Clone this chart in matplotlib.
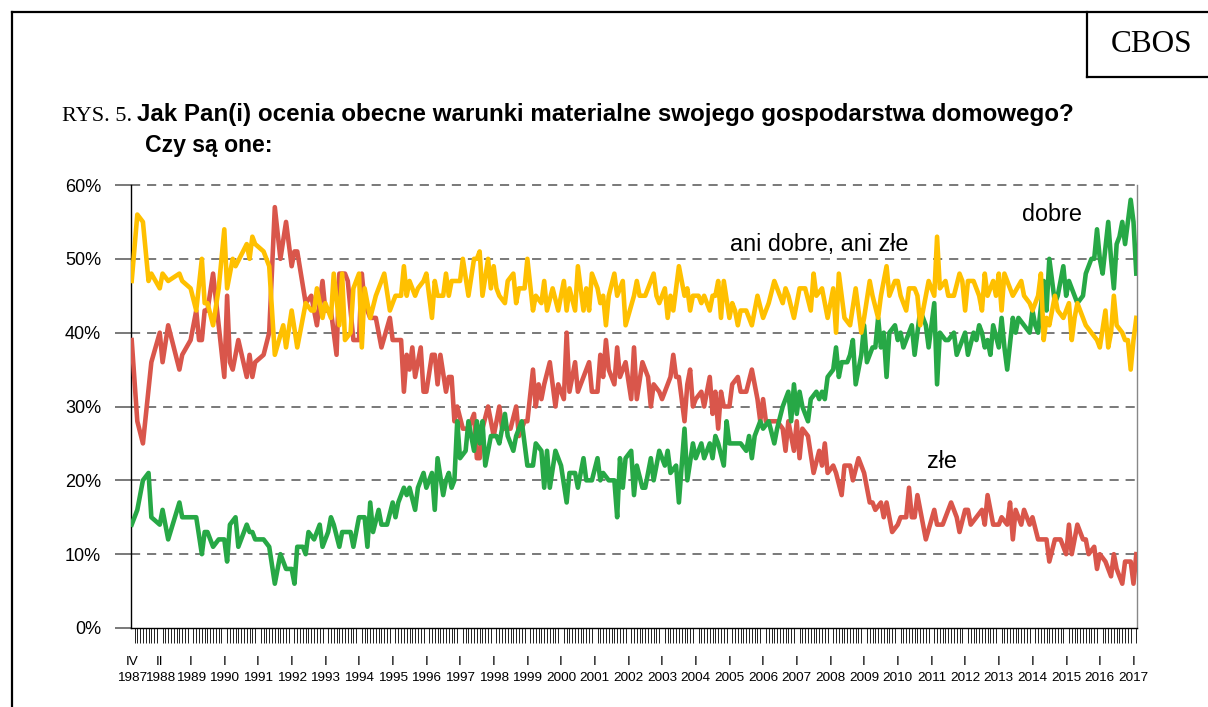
import matplotlib
matplotlib.use('Agg')
import matplotlib.pyplot as plt
from matplotlib.lines import Line2D
import numpy as np

plt.rcParams['font.family'] = ['Liberation Sans', 'DejaVu Sans']

W, H = 1208, 707

# months counted from IV 1987 (= 0)
dobre_m = [0,2,4,6,7,10,11,13,17,18,23,25,26,27,29,31,33,34,35,37,38,41,42,43,44,47,49,51,53,55,57,58,59,61,62,63,65,67,68,70,71,72,74,75,78,79,81,83,84,85,86,88,89,91,93,94,95,97,98,99,101,102,104,105,107,108,109,111,112,113,114,115,116,117,119,120,122,123,124,125,126,128,130,131,133,134,136,137,139,141,143,144,146,147,148,149,151,153,155,156,158,159,161,162,164,166,167,168,170,172,173,174,175,176,178,179,180,182,183,185,186,188,190,191,192,194,195,197,198,200,201,203,204,206,207,208,209,211,212,213,216,217,219,220,221,222,224,225,227,229,230,232,234,235,236,237,238,239,241,242,244,245,246,247,248,250,251,252,253,255,256,257,258,260,261,262,264,265,266,267,268,269,270,272,273,274,275,276,278,279,281,283,284,285,286,287,288,290,291,293,294,296,297,298,300,301,302,303,304,305,306,307,309,310,311,312,314,315,316,318,320,321,322,323,325,326,327,329,330,332,333,334,336,337,339,340,342,343,344,345,346,348,349,350,351,352,353,354,356,357,358]
dobre = [14,16,20,21,15,14,16,12,17,15,15,10,13,13,11,12,12,9,14,15,11,14,13,13,12,12,11,6,10,8,8,6,11,11,10,13,12,14,11,13,15,14,11,13,13,11,15,15,11,17,13,16,14,14,17,15,17,19,18,19,16,19,21,19,21,16,23,18,20,21,19,20,28,23,24,28,24,28,25,28,22,26,26,25,29,26,24,26,28,22,22,25,24,19,24,19,24,22,17,21,21,19,23,20,20,23,20,21,20,20,15,23,19,23,24,18,22,19,19,23,20,24,22,24,21,22,17,27,20,25,23,25,23,25,23,26,25,22,28,25,25,25,24,26,23,26,28,27,28,25,27,30,32,28,33,29,32,30,28,31,32,31,32,31,34,35,38,34,36,36,37,39,33,37,41,36,38,38,42,38,40,34,40,41,39,40,38,39,41,37,43,41,38,41,44,33,40,39,39,40,37,39,40,37,40,39,41,40,38,39,37,41,38,42,38,35,42,40,42,41,40,43,41,40,47,43,50,44,45,49,45,47,45,44,45,48,50,50,54,50,48,55,50,46,52,53,55,52,58,55,48]

ani_m = [0,2,4,6,7,10,11,13,17,18,21,23,25,26,27,29,31,33,34,36,37,41,42,43,44,47,49,51,54,55,57,59,61,62,64,65,66,68,69,71,72,74,75,76,78,79,81,82,83,85,87,90,92,94,96,97,98,99,101,102,104,105,107,108,109,111,112,113,114,117,118,120,122,123,124,125,127,128,129,130,131,133,134,136,137,138,140,141,143,144,146,147,148,150,152,154,155,156,158,159,161,162,163,164,166,167,168,169,170,172,173,175,176,179,180,181,183,184,186,187,188,190,191,192,193,195,197,198,199,200,202,203,204,206,207,208,209,210,211,213,214,215,216,217,219,221,223,225,226,227,229,231,232,233,234,236,237,238,240,242,243,244,246,248,250,251,252,254,256,258,259,260,261,263,264,266,267,268,269,270,272,273,274,276,277,279,280,281,283,284,286,287,288,290,291,293,295,296,297,298,300,302,303,304,305,307,308,309,310,311,313,314,317,318,320,321,323,324,325,326,327,329,330,332,334,335,336,337,338,339,340,342,344,345,347,348,349,350,351,353,354,355,356,357,358]
ani = [47,56,55,47,48,46,48,47,48,47,46,43,50,44,44,41,46,54,46,50,49,52,50,53,52,51,49,37,41,38,43,38,42,44,43,43,46,42,44,42,48,41,48,39,40,46,48,38,46,42,45,48,43,45,45,49,45,47,45,46,47,48,42,47,45,45,48,45,47,47,50,45,50,50,51,45,50,46,49,46,45,44,47,48,44,46,46,50,43,45,44,47,43,46,43,47,43,46,43,49,43,46,43,48,46,44,45,41,45,48,45,47,41,45,47,45,45,46,48,45,44,46,42,45,43,49,45,46,43,45,45,44,45,43,45,45,47,42,47,42,44,43,41,43,43,41,45,42,43,44,47,45,44,46,45,42,44,46,46,43,48,45,46,42,46,40,48,42,41,46,43,40,42,47,45,42,45,47,49,45,47,47,45,43,46,46,45,41,45,47,45,53,46,47,45,45,48,47,43,47,47,45,43,48,45,47,45,48,43,48,46,45,47,45,44,43,45,48,39,42,41,45,43,42,44,39,42,44,43,42,41,40,39,38,43,38,40,45,41,40,39,39,35,39,42]

zle_m = [0,2,4,7,10,11,13,17,18,21,23,24,25,26,27,29,33,34,35,36,38,41,42,43,44,47,49,51,53,55,57,58,59,62,64,66,68,69,71,73,74,76,77,79,81,82,83,85,87,89,92,93,96,97,98,99,100,101,103,104,105,107,108,109,110,112,113,114,115,116,118,120,122,123,124,125,127,129,131,132,135,137,138,140,141,143,144,145,146,147,149,151,152,154,155,156,158,159,161,163,164,166,167,168,169,170,172,173,174,176,178,179,180,182,184,185,186,188,189,191,192,193,194,195,197,198,199,200,201,203,204,206,207,208,209,210,211,213,214,216,217,219,221,223,224,225,226,230,232,233,234,236,237,238,239,241,243,245,246,247,248,250,251,253,254,256,257,259,261,263,264,265,267,268,269,271,273,274,276,277,278,279,280,282,283,286,287,289,290,292,294,295,297,298,299,301,303,304,305,307,309,310,312,313,314,315,317,318,320,321,323,325,326,327,329,331,332,333,334,335,337,339,340,341,343,344,345,347,349,350,351,353,354,356,357,358]
zle = [39,28,25,36,40,36,41,35,37,39,43,39,39,43,43,48,34,45,36,35,39,34,37,34,36,37,40,57,50,55,49,51,51,44,45,41,47,43,43,37,48,48,47,39,39,48,44,42,42,38,42,39,39,32,37,35,38,34,38,32,32,37,37,33,37,32,34,34,28,30,27,27,29,23,23,27,30,26,30,27,27,30,26,28,28,35,30,33,31,33,36,30,33,31,40,32,36,32,34,36,32,32,37,34,39,35,33,38,34,36,31,38,31,36,34,30,33,32,31,33,34,37,34,34,28,33,35,30,31,32,30,34,29,32,27,32,30,30,33,34,32,32,35,31,28,31,28,28,27,24,28,24,28,23,27,26,21,24,22,25,21,22,21,18,22,22,20,23,21,17,17,16,17,15,17,13,14,15,15,19,15,15,18,14,12,16,14,14,15,17,15,13,16,16,14,15,16,14,18,14,14,15,14,17,12,16,14,16,14,15,12,12,12,9,12,12,11,10,14,10,14,12,12,10,11,8,10,9,7,10,8,6,9,9,6,10]

label_months = [0, 10, 21, 33, 45, 57, 69, 81, 93, 105, 117, 129, 141, 153, 165, 177, 189, 201, 213, 225, 237, 249, 261, 273, 285, 297, 309, 321, 333, 345, 357]
label_roman = ['IV', 'II'] + ['I'] * 29
label_years = [1987, 1988, 1989, 1990, 1991, 1992, 1993, 1994, 1995, 1996, 1997, 1998, 1999, 2000, 2001, 2002, 2003, 2004, 2005, 2006, 2007, 2008, 2009, 2010, 2011, 2012, 2013, 2014, 2015, 2016, 2017]
n_months = 359

c_yellow = '#FFC000'
c_red = '#D9564B'
c_green = '#27A846'

fig = plt.figure(figsize=(W / 100, H / 100), dpi=100)
ax = fig.add_axes([131 / W, 1 - 628 / H, (1137 - 131) / W, (628 - 185) / H])

ax.plot(zle_m, zle, color=c_red, lw=3.3, solid_joinstyle='round', zorder=3)
ax.plot(dobre_m, dobre, color=c_green, lw=3.3, solid_joinstyle='round', zorder=4)
ax.plot(ani_m, ani, color=c_yellow, lw=3.3, solid_joinstyle='round', zorder=5)

ax.set_xlim(-0.25, 358.25)
ax.set_ylim(0, 60)

for v in range(10, 61, 10):
    ax.axhline(v, color='#555555', lw=1.1, ls=(0, (6, 4.5)), zorder=1, clip_on=False)

ax.set_yticks(range(0, 61, 10))
ax.set_yticklabels([f'{v}%' for v in range(0, 61, 10)], fontsize=13)
ax.tick_params(axis='y', length=11.5, width=1.1, color='#555555', pad=10)

ax.set_xticks(label_months)
ax.set_xticklabels([f'{r}\n{y}' for r, y in zip(label_roman, label_years)], fontsize=9.7, linespacing=1.4)
ax.set_xticks(np.arange(n_months), minor=True)
ax.tick_params(axis='x', which='major', length=0, pad=20.5)
ax.tick_params(axis='x', which='minor', length=11, width=0.7, color='#222222')

ax.spines['top'].set_visible(False)
ax.spines['left'].set_color('black')
ax.spines['left'].set_linewidth(1.0)
ax.spines['bottom'].set_color('black')
ax.spines['bottom'].set_linewidth(1.0)
ax.spines['right'].set_color('#888888')
ax.spines['right'].set_linewidth(1.0)

ax.text(213.2, 52.0, 'ani dobre, ani złe', fontsize=16.8, ha='left', va='center', zorder=6)
ax.text(317.3, 56.0, 'dobre', fontsize=16.8, ha='left', va='center', zorder=6)
ax.text(283.4, 22.5, 'złe', fontsize=16.8, ha='left', va='center', zorder=6)

# title
fig.text(62 / W, 1 - 121 / H, 'RYS. 5.', family=['Liberation Serif'], fontsize=16, ha='left', va='baseline')
fig.text(137 / W, 1 - 121 / H, 'Jak Pan(i) ocenia obecne warunki materialne swojego gospodarstwa domowego?',
         fontsize=17.4, fontweight='bold', ha='left', va='baseline')
fig.text(145 / W, 1 - 152 / H, 'Czy są one:', fontsize=16.6, fontweight='bold', ha='left', va='baseline')

fig.text(1152 / W, 1 - 44 / H, 'CBOS', family=['Liberation Serif'], fontsize=22.5, ha='center', va='center')

# frame lines
def fline(x0, y0, x1, y1, lw=1.6):
    fig.add_artist(Line2D([x0 / W, x1 / W], [1 - y0 / H, 1 - y1 / H], color='black', lw=lw))

fline(12, 12, 12, 707)
fline(12, 12, 1208, 12)
fline(1087, 12, 1087, 77)
fline(1087, 77, 1208, 77)

fig.savefig('out.png', dpi=100)
